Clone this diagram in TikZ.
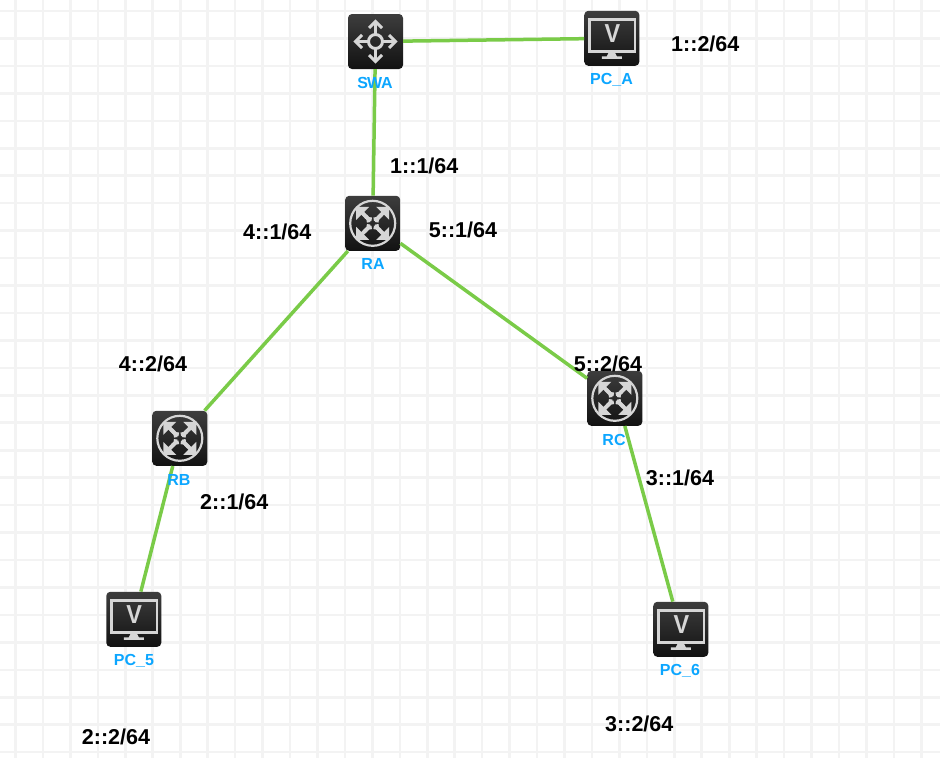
\documentclass[tikz,border=0pt]{standalone}
\usepackage{fontspec}
\setmainfont{Liberation Sans}
\definecolor{gridgray}{HTML}{F3F3F3}
\definecolor{linkgreen}{HTML}{7ACB48}
\definecolor{iconblue}{HTML}{0CA6FF}
\definecolor{icongray}{HTML}{D6D6D6}
\tikzset{
  device/.style={minimum size=55pt,inner sep=0pt,rounded corners=4pt,top color=black!76,bottom color=black!93},
  devlabel/.style={text=iconblue,font=\fontsize{16}{18}\selectfont\bfseries,inner sep=0pt},
  addr/.style={font=\fontsize{21.5}{24}\selectfont\bfseries,inner sep=0pt},
  link/.style={linkgreen,line width=3.5pt},
  pics/pcicon/.style={code={
    \draw[icongray,line width=2.6pt] (-22.5,-19) rectangle (23,13);
    \node[icongray,font=\fontsize{26}{26}\selectfont\bfseries,inner sep=0pt,xscale=.9] at (0.5,-4.5) {V};
    \fill[icongray] (-3,14) -- (3,14) -- (5,18) -- (10,18) -- (10,20.5) -- (-10,20.5) -- (-10,18) -- (-5,18) -- cycle;
  }},
  pics/routericon/.style={code={
    \draw[icongray,line width=2.2pt] (0,0) circle (22.5);
    \foreach \ang in {0,90,180,270}{
      \begin{scope}[rotate=\ang]
        \fill[icongray] (16.5,-16.5) -- (16.5,-3.5) -- (3.5,-16.5) -- cycle;
        \draw[icongray,line width=3.6pt] (11,-11) .. controls (7,-7) and (6,-4) .. (1,-4);
        \draw[icongray,line width=3.6pt] (11,-11) .. controls (7,-7) and (4,-6) .. (4,-1);
      \end{scope}
    }
  }},
  pics/switchicon/.style={code={
    \draw[icongray,line width=3pt] (0,0) circle (7);
    \foreach \ang in {0,90,180,270}{
      \begin{scope}[rotate=\ang]
        \draw[icongray,line width=3pt] (8,0) -- (20,0);
        \draw[icongray,line width=3pt] (13.5,-6.5) -- (20,0) -- (13.5,6.5);
      \end{scope}
    }
  }},
}
\begin{document}
\begin{tikzpicture}[x=1pt,y=-1pt]
\useasboundingbox (0,0) rectangle (940,758);
% background grid
\foreach \i in {0,...,33} \draw[gridgray,line width=2.6pt] ({15.5+27.45*\i},0)--({15.5+27.45*\i},758);
\foreach \i in {0,...,27} \draw[gridgray,line width=2.6pt] (0,{11+27.45*\i})--(940,{11+27.45*\i});
% devices
\node[device] (SWA) at (375.5,41.5) {};
\node[device] (PCA) at (611.8,38.3) {};
\node[device] (RA) at (372.7,223.3) {};
\node[device] (RB) at (179.8,438.3) {};
\node[device] (RC) at (614.8,398.3) {};
\node[device] (PCfive) at (133.8,619.3) {};
\node[device] (PCsix) at (680.8,629.3) {};
\draw (SWA) pic{switchicon};
\draw (PCA) pic{pcicon};
\draw (RA) pic{routericon};
\draw (RB) pic{routericon};
\draw (RC) pic{routericon};
\draw (PCfive) pic{pcicon};
\draw (PCsix) pic{pcicon};
% links
\draw[link] (SWA)--(PCA);
\draw[link] (SWA)--(RA);
\draw[link] (RA)--(RB);
\draw[link] (RA)--(RC);
\draw[link] ([xshift=10pt]RC.south)--([xshift=-8pt]PCsix.north);
\draw[link] (RB)--(PCfive);
% device names
\node[devlabel] (SWAname) at (375,83) {S\kern-1pt W\kern-1pt A};
\node[devlabel] (PCAname) at (611.5,80) {PC\_A};
\node[devlabel] (RAname) at (373,264) {RA};
\node[devlabel] (RBname) at (179,480) {RB};
\node[devlabel] (RCname) at (614,440) {RC};
\node[devlabel] (PCfivename) at (134,661) {PC\_5};
\node[devlabel] (PCsixname) at (680,671) {PC\_6};
% addresses
\node[addr] (aone) at (705.3,44) {1::2/64};
\node[addr] (atwo) at (424.3,166) {1::1/64};
\node[addr] (athree) at (277.3,232) {4::1/64};
\node[addr] (afour) at (463,230) {5::1/64};
\node[addr] (afive) at (153,364) {4::2/64};
\node[addr] (asix) at (608,364) {5::2/64};
\node[addr] (aseven) at (680,478) {3::1/64};
\node[addr] (aeight) at (234.3,502) {2::1/64};
\node[addr] (anine) at (639.3,724) {3::2/64};
\node[addr] (aten) at (116,737) {2::2/64};
\end{tikzpicture}
\end{document}
